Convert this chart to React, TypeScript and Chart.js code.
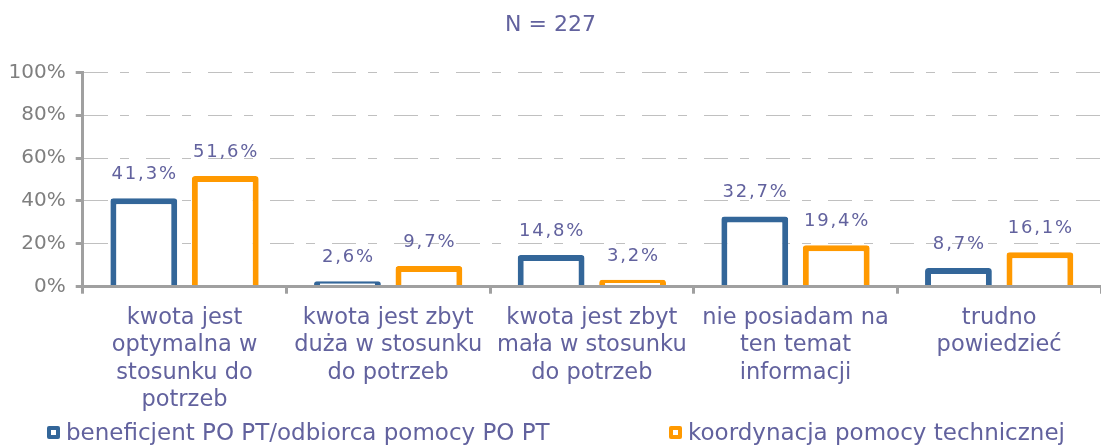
import React, { useEffect, useRef } from "react";
import { Chart, registerables } from "chart.js";

Chart.register(...registerables);

const titleText = "N = 227";
const categories: string[][] = [
  ["kwota jest", "optymalna w", "stosunku do", "potrzeb"],
  ["kwota jest zbyt", "duża w stosunku", "do potrzeb"],
  ["kwota jest zbyt", "mała w stosunku", "do potrzeb"],
  ["nie posiadam na", "ten temat", "informacji"],
  ["trudno", "powiedzieć"],
];
const seriesNames = ["beneficjent PO PT/odbiorca pomocy PO PT", "koordynacja pomocy technicznej"];
const beneficjent = [41.3, 2.6, 14.8, 32.7, 8.7];
const koordynacja = [51.6, 9.7, 3.2, 19.4, 16.1];
const yTickValues = [0, 20, 40, 60, 80, 100];

const FONT = "'DejaVu Sans', Verdana, sans-serif";
const TEXT = "#62629E";
const GRAY_TEXT = "#7F7F7F";
const AXIS = "#A0A0A0";
const GRID = "#C0C0C0";
const BLUE = "#336699";
const ORANGE = "#FF9900";

const fmt = (v: number) => v.toFixed(1).replace(".", ",") + "%";

const labelPlugin = {
  id: "valueLabels",
  afterDatasetsDraw(chart: any) {
    const ctx = chart.ctx;
    ctx.save();
    ctx.font = `18px ${FONT}`;
    ctx.fillStyle = TEXT;
    ctx.textAlign = "center";
    ctx.textBaseline = "middle";
    (ctx as any).letterSpacing = "1.8px";
    chart.data.datasets.forEach((ds: any, i: number) => {
      const meta = chart.getDatasetMeta(i);
      meta.data.forEach((bar: any, j: number) => {
        ctx.fillText(fmt(ds.data[j]), bar.x + 0.9, bar.y - 24);
      });
    });
    ctx.restore();
  },
};

const legendPlugin = {
  id: "customLegend",
  afterDraw(chart: any) {
    const ctx = chart.ctx;
    const xs = [47, 669];
    const y = 433;
    ctx.save();
    chart.data.datasets.forEach((ds: any, i: number) => {
      const x = xs[i];
      ctx.fillStyle = ds.borderColor;
      ctx.beginPath();
      (ctx as any).roundRect(x, y - 7, 13, 13, 2);
      ctx.fill();
      ctx.fillStyle = "#ffffff";
      ctx.fillRect(x + 4, y - 3, 5, 5);
      ctx.fillStyle = TEXT;
      ctx.font = `23px ${FONT}`;
      ctx.textAlign = "left";
      ctx.textBaseline = "middle";
      ctx.fillText(ds.label, x + 19, y + 1);
    });
    ctx.restore();
  },
};

export default function App() {
  const ref = useRef<HTMLCanvasElement | null>(null);

  useEffect(() => {
    if (!ref.current) return;
    const chart = new Chart(ref.current, {
      type: "bar",
      data: {
        labels: categories as any,
        datasets: [
          {
            label: seriesNames[0],
            data: beneficjent,
            backgroundColor: "#ffffff",
            borderColor: BLUE,
            borderWidth: 6,
            borderRadius: 3,
            categoryPercentage: 0.8,
            barPercentage: 0.82,
          },
          {
            label: seriesNames[1],
            data: koordynacja,
            backgroundColor: "#ffffff",
            borderColor: ORANGE,
            borderWidth: 6,
            borderRadius: 3,
            categoryPercentage: 0.8,
            barPercentage: 0.82,
          },
        ],
      },
      options: {
        responsive: false,
        animation: false,
        layout: { padding: { left: 0, right: 0, top: 0, bottom: 0 } },
        plugins: {
          legend: { display: false },
          tooltip: { enabled: false },
          title: {
            display: true,
            text: titleText,
            color: TEXT,
            font: { family: FONT, size: 22, weight: "normal" },
            padding: { top: 12, bottom: 34 },
          },
        },
        scales: {
          x: {
            afterFit: (s: any) => {
              s.height = 159.3;
            },
            grid: {
              drawOnChartArea: false,
              drawTicks: true,
              tickLength: 7,
              tickWidth: 3,
              tickColor: AXIS,
              color: AXIS,
            },
            border: { display: true, color: AXIS, width: 3, z: 1 },
            ticks: {
              color: TEXT,
              font: { family: FONT, size: 22.5, lineHeight: 1.22 },
              padding: 10.5,
              maxRotation: 0,
              minRotation: 0,
              autoSkip: false,
            },
          },
          y: {
            min: 0,
            max: 100,
            afterFit: (s: any) => {
              s.width = 82.7;
            },
            afterBuildTicks: (s: any) => {
              s.ticks = yTickValues.map((v) => ({ value: v }));
            },
            grid: {
              color: GRID,
              lineWidth: 1,
              drawTicks: true,
              tickLength: 7,
              tickWidth: 3,
              tickColor: AXIS,
              tickBorderDash: [],
            },
            border: { display: true, color: AXIS, width: 3, dash: [24, 12, 9, 17] },
            ticks: {
              color: GRAY_TEXT,
              font: { family: FONT, size: 20 },
              padding: 10,
              callback: (v: any) => `${v}%`,
            },
          },
        },
      } as any,
      plugins: [labelPlugin, legendPlugin],
    });
    return () => chart.destroy();
  }, []);

  return (
    <div style={{ position: "absolute", left: 0, top: 0, width: 1101, height: 446, background: "#fff" }}>
      <canvas ref={ref} width={1101} height={446} style={{ display: "block" }} />
    </div>
  );
}
